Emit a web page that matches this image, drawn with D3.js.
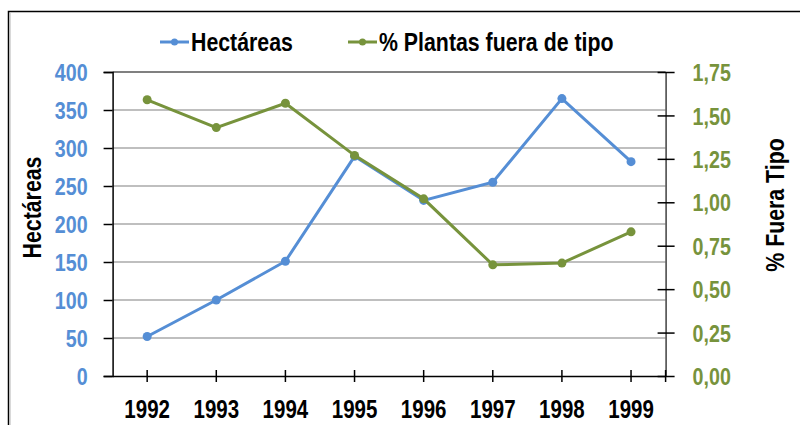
<!DOCTYPE html>
<html>
<head>
<meta charset="utf-8">
<script src="https://cdn.jsdelivr.net/npm/d3@7"></script>
<style>
  html, body { margin: 0; padding: 0; background: #fff; }
  svg { display: block; }
  .narrow { font-family: 'Liberation Sans', Arial, sans-serif; font-weight: bold; }
</style>
</head>
<body>
<script>
const years = ["1992", "1993", "1994", "1995", "1996", "1997", "1998", "1999"];
const hectareas = [52, 100, 151, 289, 231, 255, 365, 282];
const fueraTipo = [1.59, 1.43, 1.57, 1.27, 1.02, 0.64, 0.65, 0.83];
const leftTicks = [0, 50, 100, 150, 200, 250, 300, 350, 400];
const rightTicks = [0, 0.25, 0.5, 0.75, 1.0, 1.25, 1.5, 1.75];
const seriesNames = ["Hectáreas", "% Plantas fuera de tipo"];
const leftTitle = "Hectáreas";
const rightTitle = "% Fuera Tipo";

const W = 800, H = 425;
const blue = "#558ed5", green = "#77933c";
const plot = { left: 112.6, right: 665.6, top: 72, bottom: 376 };
const SQ = 0.82; // horizontal condensing to mimic a narrow bold face

function condense(sel) {
  sel.each(function () {
    const t = d3.select(this);
    const x = +t.attr("x") || 0, y = +t.attr("y") || 0;
    t.attr("x", 0).attr("y", 0).attr("transform", `translate(${x},${y}) scale(${SQ},1)`);
  });
}

const svg = d3.select("body").append("svg").attr("width", W).attr("height", H);

// outer frame
svg.append("rect").attr("x", 8.5).attr("y", 11.5).attr("width", W).attr("height", H)
  .attr("fill", "none").attr("stroke", "#000").attr("stroke-width", 1.5);
svg.append("line").attr("x1", 10.5).attr("x2", 10.5).attr("y1", 13).attr("y2", H)
  .attr("stroke", "#d9d9d9").attr("stroke-width", 1);

const x = d3.scaleBand().domain(years).range([plot.left, plot.right]);
const yL = d3.scaleLinear().domain([0, 400]).range([plot.bottom, plot.top]);
const yR = d3.scaleLinear().domain([0, 1.75]).range([plot.bottom, plot.top]);
const cx = d => x(d) + x.bandwidth() / 2;

// gridlines
svg.append("g").selectAll("line").data(leftTicks.filter(t => t > 0 && t < 400)).join("line")
  .attr("x1", plot.left).attr("x2", plot.right)
  .attr("y1", d => yL(d)).attr("y2", d => yL(d))
  .attr("stroke", "#bfbfbf").attr("stroke-width", 2);
svg.append("line").attr("x1", plot.left).attr("x2", plot.right)
  .attr("y1", yL(400)).attr("y2", yL(400)).attr("stroke", "#808080").attr("stroke-width", 2);

// left axis
const gL = svg.append("g").attr("transform", `translate(${plot.left},0)`)
  .call(d3.axisLeft(yL).tickValues(leftTicks).tickSize(9).tickPadding(16).tickFormat(d3.format("d")));
gL.select(".domain").attr("stroke", "#000").attr("stroke-width", 1.5);
gL.selectAll(".tick line").attr("stroke", "#000").attr("stroke-width", 1.5);
gL.selectAll(".tick text").attr("class", "narrow").attr("fill", blue).style("font-size", "24px").attr("dy", "0.36em").call(condense);

// right axis
const fmtR = d => d3.format(".2f")(d).replace(".", ",");
const gR = svg.append("g").attr("transform", `translate(${plot.right},0)`)
  .call(d3.axisRight(yR).tickValues(rightTicks).tickSizeInner(9).tickSizeOuter(0).tickPadding(18).tickFormat(fmtR));
gR.select(".domain").attr("stroke", "#404040").attr("stroke-width", 1.5);
gR.selectAll(".tick line").attr("x1", -8).attr("x2", 9).attr("stroke", "#000").attr("stroke-width", 1.5);
gR.selectAll(".tick text").attr("class", "narrow").attr("fill", green).style("font-size", "24px").attr("dy", "0.36em").call(condense);

// bottom axis
const gB = svg.append("g").attr("transform", `translate(0,${plot.bottom})`)
  .call(d3.axisBottom(x).tickSizeInner(6).tickSizeOuter(0).tickPadding(18));
gB.select(".domain").attr("stroke", "#000").attr("stroke-width", 1.5);
gB.selectAll(".tick line").attr("y1", -6).attr("y2", 6).attr("stroke", "#000").attr("stroke-width", 1.5);
gB.selectAll(".tick text").attr("class", "narrow").attr("fill", "#000").style("font-size", "25px").attr("dy", "0.71em").call(condense);
gB.append("line").attr("x1", plot.right).attr("x2", plot.right).attr("y1", -6).attr("y2", 6)
  .attr("stroke", "#000").attr("stroke-width", 1.5);

// lines
const lineL = d3.line().x((d, i) => cx(years[i])).y(d => yL(d));
const lineR = d3.line().x((d, i) => cx(years[i])).y(d => yR(d));
svg.append("path").datum(hectareas).attr("d", lineL).attr("fill", "none").attr("stroke", blue).attr("stroke-width", 3);
svg.append("g").selectAll("circle").data(hectareas).join("circle")
  .attr("cx", (d, i) => cx(years[i])).attr("cy", d => yL(d)).attr("r", 4.5).attr("fill", blue);
svg.append("path").datum(fueraTipo).attr("d", lineR).attr("fill", "none").attr("stroke", green).attr("stroke-width", 3);
svg.append("g").selectAll("circle").data(fueraTipo).join("circle")
  .attr("cx", (d, i) => cx(years[i])).attr("cy", d => yR(d)).attr("r", 4.5).attr("fill", green);

// axis titles (bold, condensed, rotated)
svg.append("text").attr("class", "narrow").attr("transform", `translate(41,207.5) rotate(-90) scale(${SQ},1)`)
  .attr("text-anchor", "middle").style("font-size", "26px").attr("fill", "#000").text(leftTitle);
svg.append("text").attr("class", "narrow").attr("transform", `translate(784,205) rotate(-90) scale(${SQ},1)`)
  .attr("text-anchor", "middle").style("font-size", "26px").attr("fill", "#000").text(rightTitle);

// legend
const legend = [
  { name: seriesNames[0], color: blue, x: 160 },
  { name: seriesNames[1], color: green, x: 348 }
];
const lg = svg.append("g").selectAll("g").data(legend).join("g").attr("transform", d => `translate(${d.x},42)`);
lg.append("line").attr("x1", 0).attr("x2", 29).attr("stroke", d => d.color).attr("stroke-width", 3);
lg.append("circle").attr("cx", 14.5).attr("r", 3.5).attr("fill", d => d.color);
lg.append("text").attr("class", "narrow").attr("x", 31).attr("dy", "0.36em").style("font-size", "26px")
  .attr("fill", "#000").text(d => d.name).call(condense);
</script>
</body>
</html>
